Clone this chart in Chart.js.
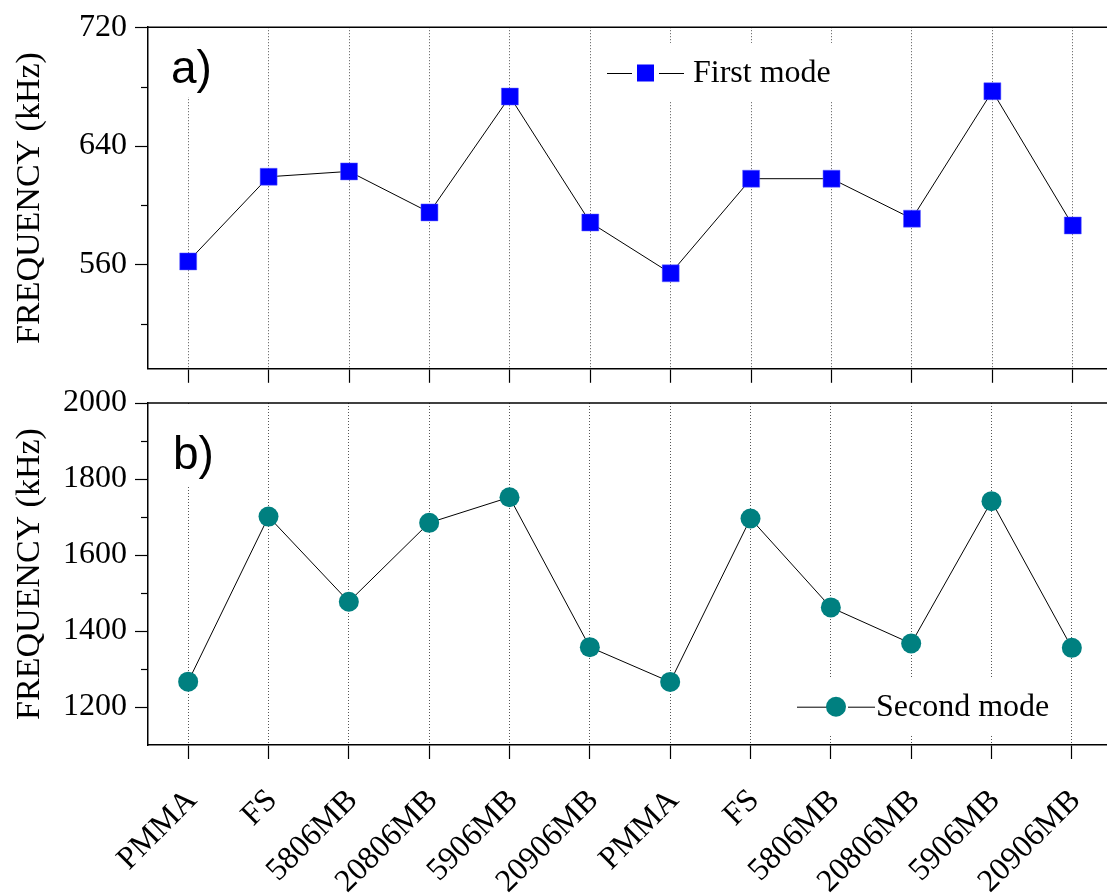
<!DOCTYPE html>
<html lang="en">
<head>
    <meta charset="UTF-8">
    <title>First and second mode frequency</title>
    <script src="https://cdn.jsdelivr.net/npm/chart.js"></script>
    <style>
        html, body { margin: 0; padding: 0; background: #fff; overflow: hidden; }
        #wrap { position: relative; width: 1107px; height: 893px; overflow: hidden; }
        canvas { position: absolute; left: 0; }
        #topChart { top: 0; }
        #bottomChart { top: 375px; }
    </style>
</head>
<body>
<div id="wrap">
    <canvas id="topChart" width="1113" height="396"></canvas>
    <canvas id="bottomChart" width="1122" height="518"></canvas>
</div>

<script>
    // samples along the x axis (the set is measured twice)
    const categories = ['PMMA', 'FS', '5806MB', '20806MB', '5906MB', '20906MB',
                        'PMMA', 'FS', '5806MB', '20806MB', '5906MB', '20906MB'];

    // first mode frequency, kHz
    const firstMode = [562.3, 619.3, 622.9, 595.3, 673.3, 588.5,
                       554.3, 618.0, 618.0, 591.1, 676.9, 586.5];

    // second mode frequency, kHz
    const secondMode = [1266.7, 1701, 1477, 1684.7, 1752, 1357.5,
                        1266, 1696, 1462, 1367, 1741.7, 1355.7];

    // y axis ticks (all marks) and the ones that carry a label
    const topTicks = [520, 560, 600, 640, 680, 720];
    const topLabels = [560, 640, 720];
    const bottomTicks = [1200, 1300, 1400, 1500, 1600, 1700, 1800, 1900, 2000];
    const bottomLabels = [1200, 1400, 1600, 1800, 2000];

    const serif = 'Liberation Serif';
    const sans = 'Liberation Sans';

    // panel letter, legend box and frame extras drawn on top of the grid
    const panelNotes = {
        id: 'panelNotes',
        beforeDatasetsDraw(chart, args, opts) {
            const ctx = chart.ctx;
            const area = chart.chartArea;
            const yScale = chart.scales.y;
            ctx.save();

            // top frame line
            ctx.strokeStyle = '#000';
            ctx.lineWidth = 1.5;
            ctx.beginPath();
            ctx.moveTo(area.left, area.top);
            ctx.lineTo(area.right, area.top);
            ctx.stroke();

            // short minor ticks on the y axis
            ctx.lineWidth = 1.2;
            opts.ticks.forEach(v => {
                if (opts.labels.includes(v)) return;
                const y = Math.round(yScale.getPixelForValue(v)) + 0.5;
                ctx.beginPath();
                ctx.moveTo(area.left - 7, y);
                ctx.lineTo(area.left, y);
                ctx.stroke();
            });

            // white boxes behind the letter and the legend
            ctx.fillStyle = '#fff';
            ctx.fillRect(opts.tagBox[0], area.top + 1, opts.tagBox[1], opts.tagBox[2] - area.top - 1);
            ctx.fillRect(opts.legendBox[0], opts.legendBox[1], opts.legendBox[2], opts.legendBox[3]);

            ctx.fillStyle = '#000';
            ctx.font = '46px "' + sans + '"';
            ctx.textBaseline = 'alphabetic';
            ctx.textAlign = 'left';
            ctx.fillText(opts.tag, opts.tagX, opts.tagY);

            // legend: line - marker - line, then the label
            const ds = chart.data.datasets[0];
            const ly = opts.legendY;
            ctx.strokeStyle = '#000';
            ctx.lineWidth = 1;
            ctx.beginPath();
            ctx.moveTo(opts.legendLine[0], ly + 0.5);
            ctx.lineTo(opts.legendLine[1], ly + 0.5);
            ctx.moveTo(opts.legendLine[2], ly + 0.5);
            ctx.lineTo(opts.legendLine[3], ly + 0.5);
            ctx.stroke();
            ctx.fillStyle = ds.pointBackgroundColor;
            if (ds.pointStyle === 'rect') {
                ctx.fillRect(opts.legendMarker - 8.5, ly - 8.5, 17, 17);
            } else {
                ctx.beginPath();
                ctx.arc(opts.legendMarker, ly, 10, 0, Math.PI * 2);
                ctx.fill();
            }
            ctx.fillStyle = '#000';
            ctx.font = '32px "' + serif + '"';
            ctx.textBaseline = 'middle';
            ctx.fillText(ds.label, opts.legendText, ly + 1);
            ctx.restore();
        }
    };

    function makeOptions(yMin, yMax, ticks, labels, xHeight, showX, padTop, notes) {
        return {
            responsive: false,
            animation: false,
            layout: { autoPadding: false, padding: { top: padTop, left: 0, right: 0, bottom: 0 } },
            plugins: {
                legend: { display: false },
                tooltip: { enabled: false },
                panelNotes: Object.assign({ ticks: ticks, labels: labels }, notes)
            },
            scales: {
                x: {
                    type: 'category',
                    offset: true,
                    grid: {
                        offset: false,
                        color: '#555',
                        lineWidth: 1,
                        tickLength: 14,
                        tickColor: '#000',
                        tickWidth: 1.2,
                        tickBorderDash: []
                    },
                    border: { display: true, color: '#000', width: 1.5, dash: [1, 2] },
                    ticks: {
                        display: showX,
                        autoSkip: false,
                        minRotation: 45,
                        maxRotation: 45,
                        padding: 23,
                        labelOffset: 4,
                        color: '#000',
                        font: { family: serif, size: 32 }
                    },
                    afterFit(scale) { scale.height = xHeight; }
                },
                y: {
                    min: yMin,
                    max: yMax,
                    afterBuildTicks(scale) {
                        scale.ticks = ticks.map(v => ({ value: v }));
                    },
                    grid: {
                        drawOnChartArea: false,
                        tickLength: 13,
                        tickWidth: 1.2,
                        tickColor: c => (c.tick && labels.includes(c.tick.value)) ? '#000' : 'rgba(0,0,0,0)'
                    },
                    border: { display: true, color: '#000', width: 1.5 },
                    ticks: {
                        padding: 8,
                        color: '#000',
                        font: { family: serif, size: 32 },
                        callback: v => labels.includes(v) ? String(v) : ''
                    },
                    title: {
                        display: true,
                        text: 'FREQUENCY (kHz)',
                        color: '#000',
                        padding: { top: 10, bottom: 0 },
                        font: { family: serif, size: 34 }
                    },
                    afterFit(scale) { scale.width = 148; }
                }
            }
        };
    }

    new Chart(document.getElementById('topChart'), {
        type: 'line',
        data: {
            labels: categories,
            datasets: [{
                label: 'First mode',
                data: firstMode,
                borderColor: '#000',
                borderWidth: 1,
                pointStyle: 'rect',
                pointRadius: 12,
                pointBackgroundColor: '#0000ff',
                pointBorderColor: '#6060ff',
                pointBorderWidth: 0.5,
                tension: 0
            }]
        },
        options: makeOptions(490, 720, topTicks, topLabels, 16, false, 27, {
            tag: 'a)', tagX: 171, tagY: 83, tagBox: [160, 80, 97],
            legendBox: [598, 43, 247, 59],
            legendY: 73, legendLine: [607, 632, 659, 684], legendMarker: 645.5, legendText: 693
        }),
        plugins: [panelNotes]
    });

    new Chart(document.getElementById('bottomChart'), {
        type: 'line',
        data: {
            labels: categories,
            datasets: [{
                label: 'Second mode',
                data: secondMode,
                borderColor: '#000',
                borderWidth: 1,
                pointStyle: 'circle',
                pointRadius: 10,
                pointBackgroundColor: '#008080',
                pointBorderColor: '#008080',
                pointBorderWidth: 0,
                tension: 0
            }]
        },
        options: makeOptions(1100, 2000, bottomTicks, bottomLabels, 148, true, 28, {
            tag: 'b)', tagX: 173, tagY: 94, tagBox: [160, 80, 112],
            legendBox: [790, 302, 272, 58],
            legendY: 331.7, legendLine: [797, 827, 848, 875], legendMarker: 836, legendText: 876
        }),
        plugins: [panelNotes]
    });
</script>
</body>
</html>
